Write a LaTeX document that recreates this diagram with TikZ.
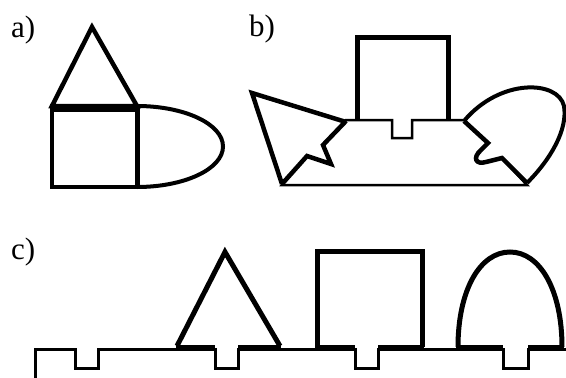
\documentclass[tikz,border=0pt]{standalone}
\usepackage{fontspec}
\setmainfont{Liberation Serif}
\begin{document}
\begin{tikzpicture}[x=1pt,y=-1pt,
  thickline/.style={line width=4.5pt,line join=miter},
  thinline/.style={line width=2.5pt,line join=miter},
  lbl/.style={anchor=base west,inner sep=0pt,font=\fontsize{31}{36}\selectfont}]
\useasboundingbox (0,0) rectangle (566,378);
% labels
\node[lbl] (la) at (11,37) {a)};
\node[lbl] (lb) at (249,36) {b)};
\node[lbl] (lc) at (11,259) {c)};
% ---- a)
\draw[thickline] (92,27) -- (52,106) -- (137,106) -- cycle;
\draw[thickline] (52,106) rectangle (137,187);
\draw[line width=7pt] (50,108) -- (139,108);
\draw[line width=5pt] (137,106) -- (137,189);
\draw[line width=4pt] (137,106) .. controls (184.5,106) and (223,124) .. (223,146.5)
  .. controls (223,169) and (184.5,187) .. (137,187);
% ---- b)
\draw[thinline] (282,185) -- (307,156) -- (331,164) -- (323,145) -- (346,120)
  -- (392,120) -- (392,138) -- (412,138) -- (412,120) -- (464,120)
  -- (488,143) -- (481,150) .. controls (472,158) and (476,165) .. (486,162)
  -- (502,158) -- (527,185) -- cycle;
\draw[line width=5pt] (357,120) -- (357,37) -- (448,37) -- (448,120);
\draw[thickline] (346,122) -- (252,93) -- (282,184);
\draw[thickline] (346,121) -- (323,145) -- (331,164) -- (307,156) -- (282,184);
\draw[thickline] (464,121) -- (488,143) -- (481,150) .. controls (472,158) and (476,165) .. (486,162)
  -- (502,158) -- (527,183);
\draw[line width=4pt] (527,183) .. controls (550,160) and (568,130) .. (564,106)
  .. controls (558,80) and (500,78) .. (464,121);
% ---- c)
\draw[line width=3pt,line join=miter] (35,380) -- (35,349) -- (75,349) -- (75,368) -- (98,368) -- (98,349)
  -- (215,349) -- (215,368) -- (238,368) -- (238,349)
  -- (355,349) -- (355,368) -- (378,368) -- (378,349)
  -- (503,349) -- (503,368) -- (528,368) -- (528,349) -- (568,349);
\draw[line width=5pt,line join=miter] (177,346) -- (225,252) -- (280,346);
\draw[line width=5pt] (176,347) -- (215,347) (238,347) -- (281,347);
\draw[line width=5pt,line join=miter] (317,347) -- (317,251) -- (422,251) -- (422,347);
\draw[line width=5pt] (315,347) -- (355,347) (378,347) -- (424,347);
\draw[line width=5pt] (458,347) .. controls (458,290) and (480,252) .. (510,252)
  .. controls (540,252) and (562,290) .. (562,347);
\draw[line width=5pt] (456,347) -- (503,347) (528,347) -- (564,347);
\end{tikzpicture}
\end{document}
